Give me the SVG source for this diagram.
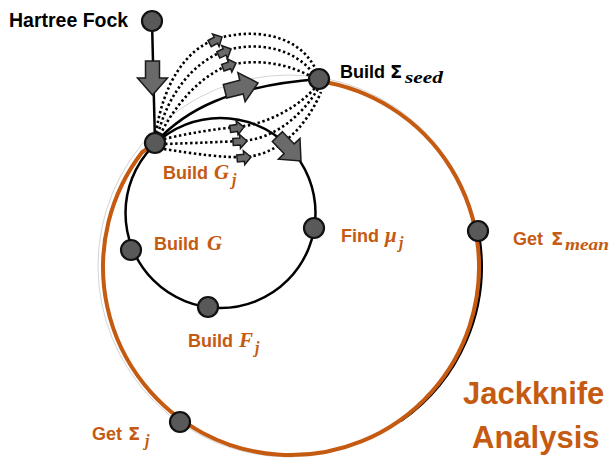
<svg xmlns="http://www.w3.org/2000/svg" width="611" height="458" viewBox="0 0 611 458">
<defs>
<style>
.node{fill:#595959;stroke:#111;stroke-width:2.2}
.solid{fill:none;stroke:#000;stroke-width:2.5}
.dot{fill:none;stroke:#000;stroke-width:2.6;stroke-dasharray:2.4 2.6}
.blk{fill:#6a6a6a;stroke:#1a1a1a;stroke-width:1.5;stroke-linejoin:miter}
.t{font-family:"Liberation Sans",Arial,sans-serif;font-weight:bold;font-size:18px}
.or{fill:#C55A11}
.bk{fill:#000}
.m{font-family:"Liberation Serif","Times New Roman",serif;font-style:italic;font-weight:bold;font-size:21px}
.ms{font-family:"Liberation Serif","Times New Roman",serif;font-style:italic;font-weight:bold;font-size:16px}
.sig{font-family:"DejaVu Sans",sans-serif;font-weight:bold;font-size:18px}
.big{font-family:"Liberation Sans",Arial,sans-serif;font-weight:bold;font-size:31px}
</style>
<path id="bigArrow" d="M-34,-7 H-17 V-15 L0,0 L-17,15 V7 H-34 Z"/>
<path id="smallArrow" d="M-14,-3.5 H-7 V-7 L0,0 L-7,7 V3.5 H-14 Z"/>
</defs>
<rect width="611" height="458" fill="#fff"/>

<g id="connectors">
<circle cx="289" cy="266" r="191" fill="none" stroke="#d4d4d4" stroke-width="1"/>
<path class="solid" d="M479.5,238 A188,188 0 0 1 400.8,421"/>
<path d="M318.8,81.1 A188,188 0 1 1 142.1,152.3 L155,143" fill="none" stroke="#C55A11" stroke-width="4"/>
<circle class="solid" cx="220.5" cy="213" r="95"/>
<path class="solid" d="M152,21 L155,143"/>
<path class="solid" d="M155,143 C185,110 230,86 319,79"/>
<path class="dot" d="M156,133 C163,85 185,50 216,39 C255,27 300,35 316,70"/>
<path class="dot" d="M158,134 C168,95 192,63 224,51 C260,40 295,50 312,72"/>
<path class="dot" d="M160,135 C175,105 200,76 229,65 C260,58 290,65 310,76"/>
<path class="dot" d="M164,139 C190,133 215,129 237,127 C270,124 300,105 316,87"/>
<path class="dot" d="M165,144 C195,143 220,142 240,141 C272,140 300,118 318,89"/>
<path class="dot" d="M164,149 C195,154 225,158 245,157 C276,155 305,130 321,92"/>
<use href="#bigArrow" class="blk" transform="translate(152.5,95) rotate(90)"/>
<use href="#bigArrow" class="blk" transform="translate(258,83) rotate(-14)"/>
<use href="#bigArrow" class="blk" transform="translate(301,161) rotate(46)"/>
<use href="#smallArrow" class="blk" transform="translate(222,37) rotate(-28)"/>
<use href="#smallArrow" class="blk" transform="translate(231,49) rotate(-25)"/>
<use href="#smallArrow" class="blk" transform="translate(236,63) rotate(-20)"/>
<use href="#smallArrow" class="blk" transform="translate(244,127) rotate(-8)"/>
<use href="#smallArrow" class="blk" transform="translate(247,141) rotate(-4)"/>
<use href="#smallArrow" class="blk" transform="translate(251,157) rotate(-6)"/>
</g>

<g id="hartree-fock">
<circle class="node" cx="152" cy="21" r="10"/>
<text class="t bk" x="9" y="27" style="font-size:19.5px">Hartree Fock</text>
</g>
<g id="build-gj">
<circle class="node" cx="155" cy="143" r="10"/>
<text class="t or" x="163" y="179">Build</text>
<text class="m or" x="214" y="179">G</text>
<text class="ms or" x="232" y="185">j</text>
</g>
<g id="build-sigma-seed">
<circle class="node" cx="319" cy="79" r="10"/>
<text class="t bk" x="340" y="78">Build</text>
<text class="sig bk" x="390" y="78">Σ</text>
<text class="ms bk" x="405" y="83" textLength="38" lengthAdjust="spacingAndGlyphs">seed</text>
</g>
<g id="get-sigma-mean">
<circle class="node" cx="478" cy="231" r="10"/>
<text class="t or" x="513" y="245">Get</text>
<text class="sig or" x="551" y="245">Σ</text>
<text class="ms or" x="565" y="250" textLength="44" lengthAdjust="spacingAndGlyphs">mean</text>
</g>
<g id="get-sigma-j">
<circle class="node" cx="180" cy="422" r="10"/>
<text class="t or" x="92" y="440">Get</text>
<text class="sig or" x="128" y="440">Σ</text>
<text class="ms or" x="145" y="446">j</text>
</g>
<g id="build-g">
<circle class="node" cx="131" cy="250" r="10"/>
<text class="t or" x="154" y="250">Build</text>
<text class="m or" x="207" y="250">G</text>
</g>
<g id="build-fj">
<circle class="node" cx="208" cy="307" r="10"/>
<text class="t or" x="188" y="347">Build</text>
<text class="m or" x="239" y="347">F</text>
<text class="ms or" x="255" y="353">j</text>
</g>
<g id="find-mu-j">
<circle class="node" cx="314" cy="228" r="10"/>
<text class="t or" x="341" y="242">Find</text>
<text class="m or" x="385" y="242">μ</text>
<text class="ms or" x="399" y="248">j</text>
</g>
<g id="jackknife-label">
<text class="big or" x="463" y="404">Jackknife</text>
<text class="big or" x="472" y="448">Analysis</text>
</g>
</svg>
